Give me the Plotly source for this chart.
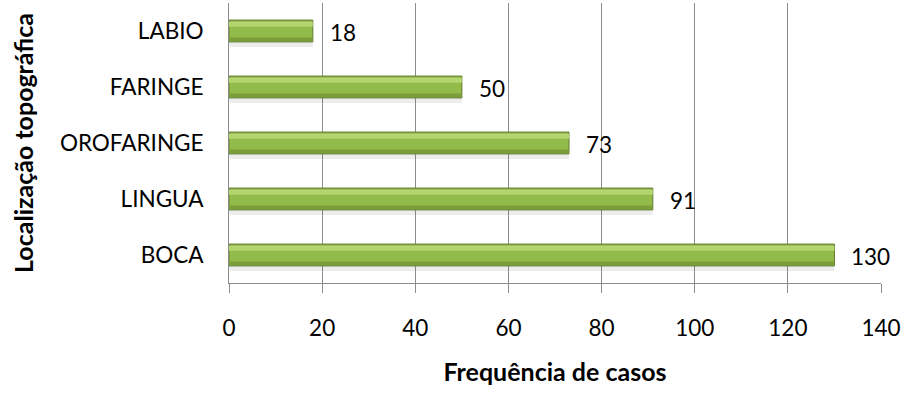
import plotly.graph_objects as go

categories = ["BOCA", "LINGUA", "OROFARINGE", "FARINGE", "LABIO"]
values = [130, 91, 73, 50, 18]
x_ticks = [0, 20, 40, 60, 80, 100, 120, 140]

FONT = "Lato, 'Open Sans', sans-serif"
BW = 0.39

fig = go.Figure()
# soft shadow under bars
fig.add_trace(go.Bar(
    y=categories, x=values, orientation="h",
    width=0.1, offset=-BW / 2 - 0.09,
    marker=dict(color="rgba(0,0,0,0.07)", line=dict(width=0)),
    showlegend=False, hoverinfo="skip",
))
# main bar
fig.add_trace(go.Bar(
    y=categories, x=values, orientation="h",
    width=BW, offset=-BW / 2,
    marker=dict(color="#93bb4a", line=dict(color="#5d7a2a", width=1)),
    showlegend=False, hoverinfo="x+y",
))
# lower darker bevel
fig.add_trace(go.Bar(
    y=categories, x=values, orientation="h",
    width=0.07, offset=-BW / 2 + 0.01,
    marker=dict(color="#7c9d3a", line=dict(width=0)),
    showlegend=False, hoverinfo="skip",
))
# upper highlight bevel
fig.add_trace(go.Bar(
    y=categories, x=values, orientation="h",
    width=0.09, offset=BW / 2 - 0.12,
    marker=dict(color="#b4d56f", line=dict(width=0)),
    showlegend=False, hoverinfo="skip",
))

for c, v in zip(categories, values):
    fig.add_annotation(
        x=v, y=c, text=str(v), showarrow=False,
        xanchor="left", yanchor="middle", xshift=15, yshift=-1,
        font=dict(family=FONT, size=22.5, color="#000"),
    )

fig.update_layout(
    width=908, height=396,
    margin=dict(l=229, r=27, t=3, b=113),
    paper_bgcolor="white", plot_bgcolor="white",
    barmode="overlay",
    font=dict(family=FONT, size=22.5, color="#000"),
    xaxis=dict(
        range=[0, 140], tickvals=x_ticks,
        showgrid=True, gridcolor="#8c8c8c", gridwidth=1,
        showline=True, linecolor="#8c8c8c", linewidth=1,
        ticks="outside", ticklen=9, tickcolor="#8c8c8c",
        ticklabelstandoff=16, zeroline=False,
        title=dict(text="<b>Frequência de casos</b>", font=dict(size=25), standoff=23),
    ),
    yaxis=dict(
        categoryorder="array", categoryarray=categories,
        range=[-0.5, 4.5],
        showline=True, linecolor="#8c8c8c", linewidth=1,
        ticks="", ticklabelstandoff=20,
        title=dict(text="<b>Localização topográfica</b>", font=dict(size=25), standoff=19),
    ),
)

fig.write_html("out.html")
